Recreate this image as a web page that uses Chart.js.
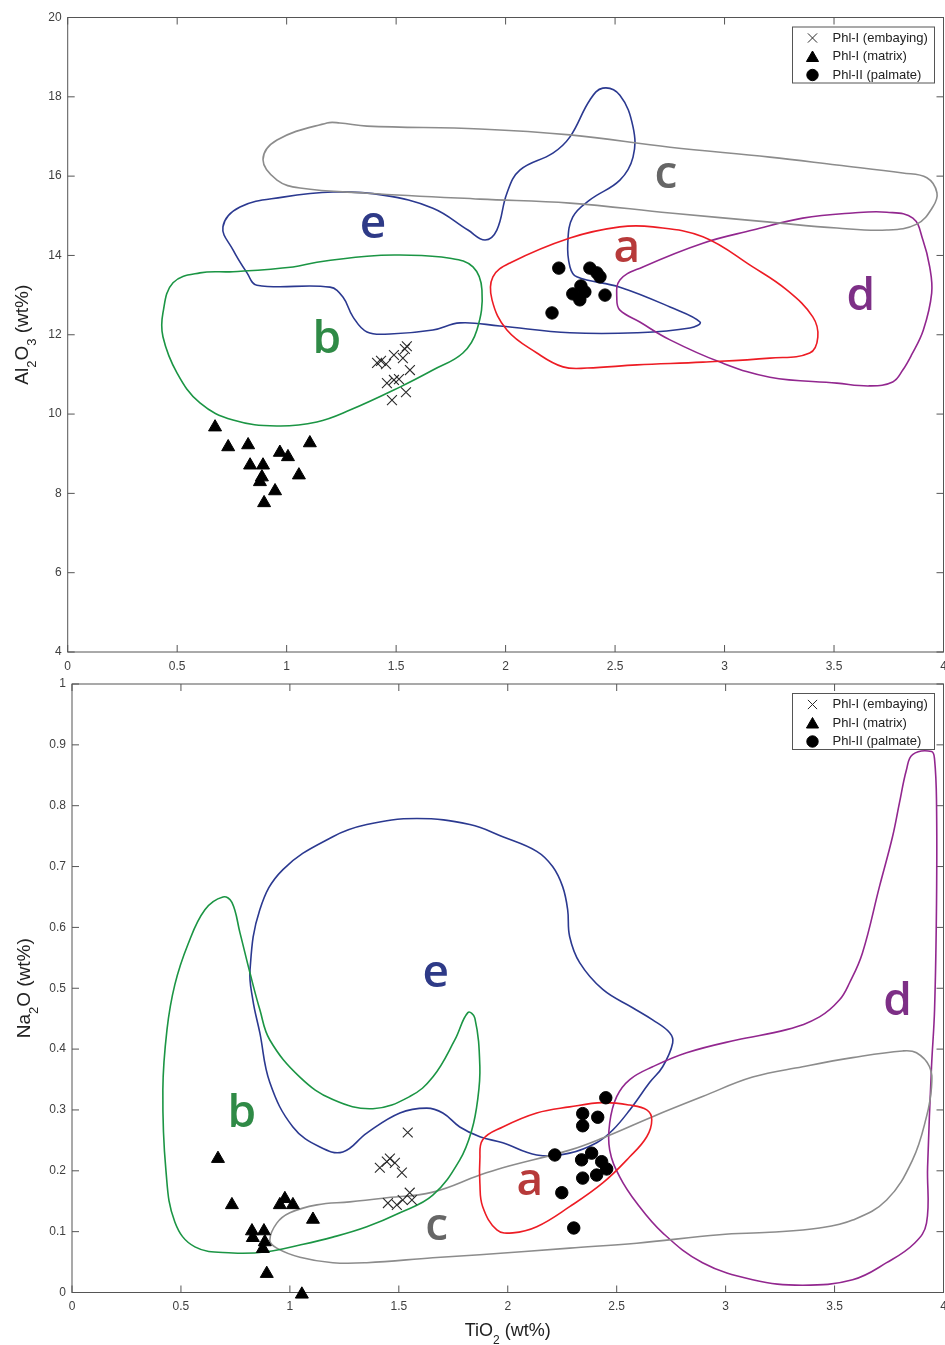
<!DOCTYPE html>
<html>
<head>
<meta charset="utf-8">
<script src="https://cdn.jsdelivr.net/npm/chart.js@4.4.1/dist/chart.umd.min.js"></script>
<style>
  html, body { margin: 0; padding: 0; background: #fff; }
  #wrap { position: relative; width: 945px; height: 1345px; }
  canvas { position: absolute; left: 0; }
  #alChart { top: 0; }
  #naChart { top: 676px; }
</style>
</head>
<body>
<div id="wrap">
  <canvas id="alChart" width="945" height="676"></canvas>
  <canvas id="naChart" width="945" height="669"></canvas>
</div>
<script>
// ---- axes ----
const xTicks = [0, 0.5, 1, 1.5, 2, 2.5, 3, 3.5, 4];
const xTickLabels = ['0', '0.5', '1', '1.5', '2', '2.5', '3', '3.5', '4'];
const alTicks = [4, 6, 8, 10, 12, 14, 16, 18, 20];
const alTickLabels = ['4', '6', '8', '10', '12', '14', '16', '18', '20'];
const naTicks = [0, 0.1, 0.2, 0.3, 0.4, 0.5, 0.6, 0.7, 0.8, 0.9, 1];
const naTickLabels = ['0', '0.1', '0.2', '0.3', '0.4', '0.5', '0.6', '0.7', '0.8', '0.9', '1'];

// titles: [text, isSubscript]
const xTitle = [['TiO', 0], ['2', 1], [' (wt%)', 0]];
const alTitle = [['Al', 0], ['2', 1], ['O', 0], ['3', 1], [' (wt%)', 0]];
const naTitle = [['Na', 0], ['2', 1], ['O', 0], [' (wt%)', 0]];

const legendLabels = ['Phl-I (embaying)', 'Phl-I (matrix)', 'Phl-II (palmate)'];
const fieldNames = ['a', 'b', 'c', 'd', 'e'];

// ---- Al2O3 vs TiO2 samples ----
const embayingAl = [[1.413, 11.29], [1.431, 11.34], [1.454, 11.26], [1.490, 11.49], [1.531, 11.41], [1.549, 11.71],
  [1.540, 11.64], [1.563, 11.11], [1.458, 10.78], [1.490, 10.86], [1.513, 10.88], [1.545, 10.55], [1.481, 10.35]];
const matrixAl = [[0.673, 9.67], [0.733, 9.17], [0.824, 9.22], [0.833, 8.71], [0.892, 8.71], [0.887, 8.41],
  [0.878, 8.29], [0.947, 8.06], [0.897, 7.76], [0.969, 9.03], [1.006, 8.92], [1.056, 8.46], [1.106, 9.27]];
const palmateAl = [[2.243, 13.68], [2.385, 13.68], [2.417, 13.56], [2.431, 13.46], [2.344, 13.23], [2.307, 13.03],
  [2.339, 12.88], [2.362, 13.08], [2.454, 13.00], [2.212, 12.55]];

// ---- Al2O3 vs TiO2 fields ----
const fieldAAl = [[1.942, 13.46], [2.020, 13.81], [2.294, 14.44], [2.522, 14.72], [2.673, 14.72], [2.901, 14.47],
  [3.129, 13.71], [3.284, 13.13], [3.403, 12.45], [3.426, 11.94], [3.389, 11.54], [3.207, 11.41], [2.901, 11.31],
  [2.60, 11.24], [2.372, 11.16], [2.262, 11.19], [2.143, 11.54], [2.006, 12.12], [1.938, 12.88]];
const fieldBAl = [[0.435, 12.55], [0.481, 13.31], [0.604, 13.56], [0.755, 13.59], [1.029, 13.71], [1.138, 13.83],
  [1.367, 13.98], [1.517, 14.01], [1.746, 13.93], [1.851, 13.71], [1.892, 13.13], [1.869, 12.12], [1.805, 11.54],
  [1.668, 11.11], [1.517, 10.68], [1.289, 10.10], [1.138, 9.80], [0.955, 9.70], [0.755, 9.85], [0.604, 10.28],
  [0.499, 11.04], [0.435, 11.95]];
const fieldCAl = [[0.892, 16.41], [0.956, 16.91], [1.184, 17.34], [1.243, 17.34], [1.367, 17.26], [1.883, 17.19],
  [2.294, 17.04], [2.751, 16.73], [3.207, 16.48], [3.513, 16.28], [3.814, 16.08], [3.924, 15.96], [3.97, 15.58],
  [3.951, 15.22], [3.878, 14.79], [3.741, 14.64], [3.513, 14.69], [3.207, 14.84], [2.751, 15.07], [2.294, 15.32],
  [1.883, 15.42], [1.367, 15.57], [1.061, 15.70], [0.956, 15.90]];
const fieldDAl = [[2.508, 12.88], [2.522, 13.38], [2.627, 13.71], [2.901, 14.31], [3.129, 14.64], [3.357, 14.94],
  [3.585, 15.07], [3.741, 15.09], [3.860, 14.94], [3.906, 14.39], [3.937, 13.71], [3.946, 13.05], [3.908, 12.12],
  [3.854, 11.49], [3.814, 11.11], [3.768, 10.81], [3.663, 10.71], [3.513, 10.78], [3.207, 10.93], [2.979, 11.31],
  [2.751, 11.87], [2.613, 12.32], [2.522, 12.62]];
const fieldEAl = [[0.709, 14.72], [0.755, 14.14], [0.819, 13.56], [0.864, 13.25], [1.198, 13.20], [1.257, 12.95],
  [1.303, 12.45], [1.367, 12.07], [1.472, 12.02], [1.668, 12.12], [1.792, 12.30], [1.974, 12.22], [2.294, 12.05],
  [2.60, 12.05], [2.842, 12.17], [2.888, 12.32], [2.751, 12.70], [2.522, 13.20], [2.325, 13.46], [2.294, 13.71],
  [2.284, 14.31], [2.307, 14.97], [2.385, 15.40], [2.522, 15.90], [2.582, 16.48], [2.582, 17.24], [2.522, 18.04],
  [2.444, 18.22], [2.385, 17.92], [2.294, 16.99], [2.216, 16.58], [2.065, 16.15], [2.006, 15.57], [1.960, 14.64],
  [1.906, 14.39], [1.828, 14.64], [1.668, 15.19], [1.440, 15.52], [1.212, 15.60], [0.983, 15.47], [0.787, 15.22]];
// label anchors (baseline) for a..e
const labelPosAl = [[2.554, 13.83], [1.184, 11.54], [2.732, 15.70], [3.622, 12.62], [1.394, 14.44]];

// ---- Na2O vs TiO2 samples ----
const embayingNa = [[1.541, 0.263], [1.413, 0.205], [1.445, 0.215], [1.459, 0.220], [1.482, 0.213], [1.514, 0.197],
  [1.450, 0.147], [1.491, 0.144], [1.518, 0.152], [1.550, 0.164], [1.560, 0.152]];
const matrixNa = [[0.670, 0.220], [0.734, 0.144], [0.826, 0.101], [0.830, 0.090], [0.881, 0.101], [0.885, 0.083],
  [0.876, 0.072], [0.894, 0.031], [0.954, 0.144], [0.977, 0.154], [1.014, 0.144], [1.106, 0.120], [1.055, -0.003]];
const palmateNa = [[2.450, 0.320], [2.344, 0.294], [2.413, 0.288], [2.344, 0.274], [2.216, 0.226], [2.385, 0.229],
  [2.339, 0.218], [2.431, 0.215], [2.454, 0.203], [2.344, 0.188], [2.408, 0.193], [2.248, 0.164], [2.303, 0.106]];

// ---- Na2O vs TiO2 fields ----
const fieldANa = [[1.885, 0.251], [1.977, 0.272], [2.133, 0.295], [2.284, 0.305], [2.436, 0.312], [2.560, 0.308],
  [2.638, 0.300], [2.661, 0.284], [2.638, 0.256], [2.560, 0.223], [2.436, 0.180], [2.284, 0.141], [2.133, 0.108],
  [2.023, 0.098], [1.950, 0.103], [1.885, 0.141], [1.872, 0.180], [1.872, 0.218]];
const fieldBNa = [[0.693, 0.650], [0.734, 0.641], [0.771, 0.591], [0.817, 0.525], [0.862, 0.465], [0.908, 0.415],
  [1.046, 0.354], [1.197, 0.317], [1.381, 0.302], [1.550, 0.322], [1.656, 0.354], [1.757, 0.415], [1.817, 0.460],
  [1.849, 0.451], [1.872, 0.371], [1.862, 0.317], [1.835, 0.267], [1.780, 0.218], [1.656, 0.160], [1.505, 0.131],
  [1.353, 0.108], [1.197, 0.091], [1.046, 0.078], [0.894, 0.067], [0.739, 0.065], [0.564, 0.075], [0.472, 0.116],
  [0.431, 0.201], [0.417, 0.333], [0.436, 0.432], [0.472, 0.506], [0.532, 0.572], [0.610, 0.629]];
const fieldCNa = [[0.908, 0.086], [0.940, 0.114], [1.0, 0.131], [1.124, 0.144], [1.275, 0.149], [1.427, 0.155],
  [1.656, 0.165], [1.872, 0.193], [1.977, 0.205], [2.284, 0.234], [2.436, 0.254], [2.665, 0.289], [2.894, 0.322],
  [3.124, 0.354], [3.353, 0.371], [3.583, 0.386], [3.812, 0.397], [3.876, 0.394], [3.936, 0.371], [3.945, 0.338],
  [3.922, 0.289], [3.858, 0.218], [3.739, 0.152], [3.583, 0.119], [3.431, 0.106], [3.202, 0.099], [2.972, 0.095],
  [2.592, 0.081], [2.284, 0.073], [1.872, 0.062], [1.656, 0.057], [1.353, 0.049], [1.197, 0.049], [1.046, 0.058],
  [0.940, 0.073]];
const fieldDNa = [[3.858, 0.884], [3.945, 0.889], [3.959, 0.876], [3.968, 0.805], [3.968, 0.641], [3.959, 0.465],
  [3.945, 0.371], [3.927, 0.206], [3.922, 0.114], [3.867, 0.081], [3.739, 0.049], [3.583, 0.021], [3.353, 0.012],
  [3.124, 0.021], [2.894, 0.049], [2.711, 0.098], [2.592, 0.147], [2.514, 0.190], [2.468, 0.234], [2.468, 0.279],
  [2.500, 0.322], [2.560, 0.350], [2.665, 0.371], [2.821, 0.394], [3.050, 0.415], [3.280, 0.432], [3.431, 0.453],
  [3.523, 0.481], [3.569, 0.509], [3.628, 0.558], [3.706, 0.667], [3.766, 0.749], [3.798, 0.805], [3.830, 0.859]];
const fieldENa = [[0.817, 0.530], [0.862, 0.629], [0.968, 0.695], [1.197, 0.749], [1.353, 0.769], [1.583, 0.779],
  [1.826, 0.769], [1.977, 0.749], [2.133, 0.725], [2.206, 0.700], [2.252, 0.667], [2.275, 0.629], [2.284, 0.585],
  [2.330, 0.542], [2.436, 0.498], [2.573, 0.468], [2.665, 0.448], [2.743, 0.427], [2.757, 0.410], [2.711, 0.371],
  [2.651, 0.345], [2.560, 0.300], [2.482, 0.267], [2.408, 0.246], [2.284, 0.229], [2.133, 0.226], [1.977, 0.246],
  [1.872, 0.256], [1.780, 0.272], [1.702, 0.295], [1.628, 0.303], [1.505, 0.295], [1.353, 0.262], [1.243, 0.231],
  [1.138, 0.239], [1.014, 0.272], [0.908, 0.345], [0.862, 0.427], [0.830, 0.481]];
const labelPosNa = [[2.101, 0.160], [0.780, 0.272], [1.674, 0.086], [3.789, 0.456], [1.670, 0.502]];

const fieldColors = ['#ed1c24', '#1b9544', '#8c8c8c', '#92278f', '#2b3990'];
const labelColors = ['#b73a3a', '#2f8a46', '#666666', '#7d2f86', '#2e3a87'];

const FONT = '"Liberation Sans", Arial, sans-serif';
Chart.defaults.font.family = FONT;

const toXY = pts => pts.map(p => ({x: p[0], y: p[1]}));

// closed smooth outline: pad with wrap-around points, hide the two helper segments
function fieldDataset(points, color) {
  const loop = [points[points.length - 1], ...points, points[0], points[1]];
  const last = loop.length - 2;
  return {
    data: toXY(loop),
    showLine: true,
    borderColor: color,
    borderWidth: 1.6,
    pointRadius: 0,
    pointHoverRadius: 0,
    tension: 0.4,
    fill: false,
    clip: false,
    segment: {
      borderColor: ctx => (ctx.p0DataIndex === 0 || ctx.p0DataIndex === last) ? 'rgba(0,0,0,0)' : undefined
    }
  };
}

const markerStyles = [
  {pointStyle: 'crossRot', pointRadius: 7, borderColor: '#2a2a2a', backgroundColor: '#2a2a2a', borderWidth: 1.1},
  {pointStyle: 'triangle', pointRadius: 7.5, borderColor: '#000', backgroundColor: '#000', borderWidth: 1},
  {pointStyle: 'circle', pointRadius: 6.2, borderColor: '#000', backgroundColor: '#000', borderWidth: 1}
];

function drawRich(ctx, parts, size, subSize, drop) {
  let w = 0;
  parts.forEach(([t, sub]) => {
    ctx.font = `${sub ? subSize : size}px ${FONT}`;
    w += ctx.measureText(t).width;
  });
  let x = -w / 2;
  parts.forEach(([t, sub]) => {
    ctx.font = `${sub ? subSize : size}px ${FONT}`;
    ctx.fillText(t, x, sub ? drop : 0);
    x += ctx.measureText(t).width;
  });
}

// box with inward ticks on all four sides (MATLAB look)
const framePlugin = {
  id: 'frame',
  beforeDatasetsDraw(chart, args, opts) {
    const {ctx, chartArea: a, scales} = chart;
    ctx.save();
    ctx.strokeStyle = '#555';
    ctx.lineWidth = 1;
    ctx.strokeRect(a.left, a.top, a.right - a.left, a.bottom - a.top);
    ctx.beginPath();
    opts.xTicks.forEach(v => {
      const px = scales.x.getPixelForValue(v);
      ctx.moveTo(px, a.bottom); ctx.lineTo(px, a.bottom - 7);
      ctx.moveTo(px, a.top); ctx.lineTo(px, a.top + 7);
    });
    opts.yTicks.forEach(v => {
      const py = scales.y.getPixelForValue(v);
      ctx.moveTo(a.left, py); ctx.lineTo(a.left + 7, py);
      ctx.moveTo(a.right, py); ctx.lineTo(a.right - 7, py);
    });
    ctx.stroke();
    ctx.restore();
  },
  afterDraw(chart, args, opts) {
    const {ctx, chartArea: a, scales} = chart;
    ctx.save();
    // field letters
    ctx.font = '600 46px "Open Sans", "DejaVu Sans", sans-serif';
    ctx.textAlign = 'center';
    ctx.textBaseline = 'alphabetic';
    opts.labelPos.forEach((p, i) => {
      ctx.fillStyle = labelColors[i];
      ctx.fillText(fieldNames[i], scales.x.getPixelForValue(p[0]), scales.y.getPixelForValue(p[1]));
    });

    // axis titles
    ctx.fillStyle = '#222';
    ctx.textAlign = 'left';
    ctx.save();
    ctx.translate(opts.yTitleX, (a.top + a.bottom) / 2);
    ctx.rotate(-Math.PI / 2);
    drawRich(ctx, opts.yTitle, 19, 13, 8);
    ctx.restore();
    if (opts.xTitle) {
      ctx.save();
      ctx.translate((a.left + a.right) / 2, opts.xTitleY);
      drawRich(ctx, opts.xTitle, 18, 12, 8);
      ctx.restore();
    }

    // legend box
    const w = 142, h = 56;
    const bx = a.right - 9 - w, by = a.top + 9.5;
    ctx.fillStyle = '#fff';
    ctx.fillRect(bx, by, w, h);
    ctx.strokeStyle = '#555';
    ctx.lineWidth = 1;
    ctx.strokeRect(bx, by, w, h);
    ctx.font = `13px ${FONT}`;
    ctx.textBaseline = 'middle';
    legendLabels.forEach((lbl, i) => {
      const cy = by + 11 + i * 18.5;
      const st = markerStyles[i];
      ctx.fillStyle = st.backgroundColor;
      ctx.strokeStyle = st.borderColor;
      ctx.lineWidth = 1;
      Chart.helpers.drawPoint(ctx, {pointStyle: st.pointStyle, radius: st.pointRadius - 0.5, borderWidth: 1, rotation: 0}, bx + 20, cy + (i === 1 ? 1.5 : 0));
      ctx.fillStyle = '#222';
      ctx.fillText(lbl, bx + 40, cy);
    });
    ctx.restore();
  }
};

function makeChart(id, cfg) {
  const samples = [cfg.embaying, cfg.matrix, cfg.palmate].map((pts, i) => ({
    data: toXY(pts),
    ...markerStyles[i],
    pointHoverRadius: markerStyles[i].pointRadius,
    clip: false
  }));
  const fields = cfg.fields.map((pts, i) => fieldDataset(pts, fieldColors[i]));

  return new Chart(document.getElementById(id), {
    type: 'scatter',
    data: {datasets: [...samples, ...fields]},
    options: {
      responsive: false,
      animation: false,
      events: [],
      layout: {autoPadding: false, padding: {top: cfg.padTop, right: 1.5, left: 0, bottom: 0}},
      plugins: {
        legend: {display: false},
        tooltip: {enabled: false},
        frame: {
          xTicks: xTicks, yTicks: cfg.yTicks, labelPos: cfg.labelPos,
          yTitle: cfg.yTitle, yTitleX: cfg.yTitleX,
          xTitle: cfg.xTitle, xTitleY: cfg.xTitleY
        }
      },
      scales: {
        x: {
          type: 'linear', min: 0, max: 4,
          afterBuildTicks: s => { s.ticks = xTicks.map(v => ({value: v})); },
          afterFit: s => {
            s.height = cfg.xAxisH;
            s.paddingLeft = 0; s.paddingRight = 0; s.paddingTop = 0; s.paddingBottom = 0;
          },
          grid: {display: false, drawTicks: false},
          border: {display: false},
          ticks: {padding: 7, color: '#404040', font: {size: 12}, maxRotation: 0, autoSkip: false,
            callback: (v, i) => xTickLabels[i]}
        },
        y: {
          type: 'linear', min: cfg.yTicks[0], max: cfg.yTicks[cfg.yTicks.length - 1],
          afterBuildTicks: s => { s.ticks = cfg.yTicks.map(v => ({value: v})); },
          afterFit: s => {
            s.width = cfg.yAxisW;
            s.paddingLeft = 0; s.paddingRight = 0; s.paddingTop = 0; s.paddingBottom = 0;
          },
          grid: {display: false, drawTicks: false},
          border: {display: false},
          ticks: {padding: 6, color: '#404040', font: {size: 12}, autoSkip: false,
            callback: (v, i) => cfg.yTickLabels[i]}
        }
      }
    },
    plugins: [framePlugin]
  });
}

makeChart('alChart', {
  embaying: embayingAl, matrix: matrixAl, palmate: palmateAl,
  fields: [fieldAAl, fieldBAl, fieldCAl, fieldDAl, fieldEAl],
  labelPos: labelPosAl,
  yTicks: alTicks, yTickLabels: alTickLabels,
  yTitle: alTitle, yTitleX: 28,
  padTop: 17.5, xAxisH: 24, yAxisW: 67.7
});

makeChart('naChart', {
  embaying: embayingNa, matrix: matrixNa, palmate: palmateNa,
  fields: [fieldANa, fieldBNa, fieldCNa, fieldDNa, fieldENa],
  labelPos: labelPosNa,
  yTicks: naTicks, yTickLabels: naTickLabels,
  yTitle: naTitle, yTitleX: 30,
  xTitle: xTitle, xTitleY: 660,
  padTop: 8, xAxisH: 52.5, yAxisW: 72
});
</script>
</body>
</html>
